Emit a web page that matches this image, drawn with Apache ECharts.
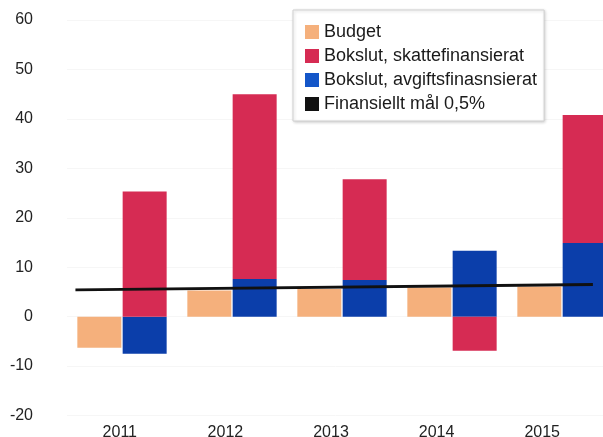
<!DOCTYPE html>
<html>
<head>
<meta charset="utf-8">
<script src="https://cdn.jsdelivr.net/npm/echarts@6/dist/echarts.min.js"></script>
<style>
  html, body { margin: 0; padding: 0; background: #fff; }
  #chart { width: 603px; height: 437px; }
</style>
</head>
<body>
<div id="chart"></div>
<script>
// Resultat per år (mnkr)
const years = ['2011', '2012', '2013', '2014', '2015'];
const budget = [-6.3, 5.3, 5.6, 5.9, 6.1];
const skattefinansierat = [25.3, 37.4, 20.4, -6.9, 25.9];
const avgiftsfinansierat = [-7.5, 7.6, 7.4, 13.3, 14.9];
// Finansiellt mål 0,5 %: start- och slutpunkt längs tidsaxeln
const goalX = [0.08, 4.98];
const goalY = [5.4, 6.5];
const yTicks = { min: -20, max: 60, interval: 10 };

const colors = {
  budget: '#f5b07c',
  skatt: '#d62b53',
  avgift: '#0b3eaa',
  mal: '#111111'
};

const font = { fontFamily: 'Liberation Sans, Arial, sans-serif', fontSize: 16, color: '#222' };

const chart = echarts.init(document.getElementById('chart'), null, { renderer: 'canvas' });

chart.setOption({
  animation: false,
  backgroundColor: '#ffffff',
  grid: [
    // staplarnas rutnät fortsätter förbi högerkanten
    { left: 67, width: 550, top: 20, bottom: 21.5, outerBoundsMode: 'none', containLabel: false },
    { left: 67, right: 8, top: 20, bottom: 21.5, outerBoundsMode: 'none', containLabel: false }
  ],
  legend: {
    orient: 'vertical',
    left: 293,
    top: 10,
    padding: [13, 7, 8, 12],
    itemWidth: 14,
    itemHeight: 14,
    itemGap: 6,
    icon: 'rect',
    backgroundColor: '#fff',
    borderColor: '#d0d0d0',
    borderWidth: 1,
    shadowColor: 'rgba(0,0,0,0.18)',
    shadowBlur: 3,
    shadowOffsetX: 1,
    shadowOffsetY: 1,
    textStyle: { fontFamily: font.fontFamily, fontSize: 18, lineHeight: 18, color: '#1a1a1a' },
    data: [
      'Budget',
      'Bokslut, skattefinansierat',
      { name: 'Bokslut, avgiftsfinasnsierat', itemStyle: { color: '#1456c8' } },
      'Finansiellt mål 0,5%'
    ]
  },
  xAxis: [
    {
      type: 'category',
      gridIndex: 0,
      data: years,
      axisLine: { show: false },
      axisTick: { show: false },
      axisLabel: { show: false }
    },
    {
      type: 'category',
      gridIndex: 1,
      data: years,
      axisLine: { show: false },
      axisTick: { show: false },
      axisLabel: Object.assign({ margin: 9 }, font)
    },
    {
      type: 'value',
      gridIndex: 1,
      min: 0,
      max: years.length,
      show: false
    }
  ],
  yAxis: [
    {
      type: 'value',
      gridIndex: 0,
      min: yTicks.min,
      max: yTicks.max,
      interval: yTicks.interval,
      axisLine: { show: false },
      axisTick: { show: false },
      axisLabel: Object.assign({ margin: 34 }, font),
      splitLine: { show: true, lineStyle: { color: '#f6f6f6', width: 1 } }
    },
    {
      type: 'value',
      gridIndex: 1,
      min: yTicks.min,
      max: yTicks.max,
      interval: yTicks.interval,
      show: false
    }
  ],
  series: [
    {
      name: 'Budget',
      type: 'bar',
      xAxisIndex: 0,
      yAxisIndex: 0,
      data: budget,
      barWidth: 44,
      barGap: '3%',
      itemStyle: { color: colors.budget }
    },
    {
      name: 'Bokslut, avgiftsfinasnsierat',
      type: 'bar',
      stack: 'bokslut',
      xAxisIndex: 0,
      yAxisIndex: 0,
      data: avgiftsfinansierat,
      barWidth: 44,
      itemStyle: { color: colors.avgift }
    },
    {
      name: 'Bokslut, skattefinansierat',
      type: 'bar',
      stack: 'bokslut',
      xAxisIndex: 0,
      yAxisIndex: 0,
      data: skattefinansierat,
      barWidth: 44,
      itemStyle: { color: colors.skatt }
    },
    {
      name: 'Finansiellt mål 0,5%',
      type: 'line',
      xAxisIndex: 2,
      yAxisIndex: 1,
      z: 5,
      symbol: 'none',
      data: goalX.map((x, i) => [x, goalY[i]]),
      lineStyle: { color: colors.mal, width: 2.8 },
      itemStyle: { color: colors.mal }
    }
  ]
});
</script>
</body>
</html>
